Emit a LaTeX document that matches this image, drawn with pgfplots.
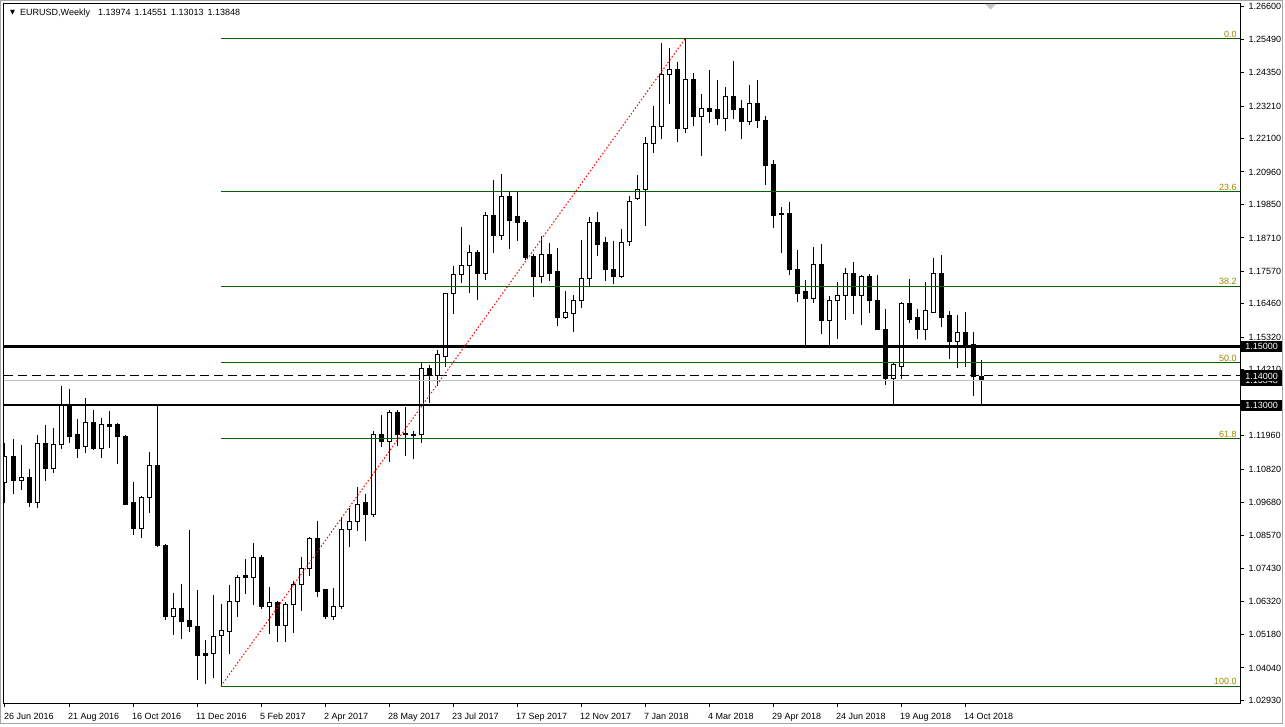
\documentclass[border=0pt]{standalone}
\usepackage{fontspec}
\setmainfont{Liberation Sans}
\newfontfamily\symfont{DejaVu Sans}
\usepackage{pgfplots}
\usepackage{pgfplotstable}
\pgfplotsset{compat=1.18}

\definecolor{fibgreen}{RGB}{0,100,0}
\definecolor{fiblab}{RGB}{150,135,0}
\definecolor{bidgray}{RGB}{192,192,192}

% weekly EURUSD candles: week index, open, high, low, close
\pgfplotstableread{
i o h l c
0 1.1035 1.1171 1.0967 1.1127
1 1.1127 1.1185 1.0997 1.1042
2 1.1045 1.1165 1.1011 1.1055
3 1.1055 1.1083 1.0953 1.0967
4 1.0970 1.1199 1.0950 1.1168
5 1.1168 1.1233 1.1042 1.1083
6 1.1083 1.1223 1.1069 1.1165
7 1.1165 1.1366 1.1151 1.1298
8 1.1301 1.1356 1.1171 1.1195
9 1.1199 1.1253 1.1120 1.1154
10 1.1158 1.1325 1.1137 1.1240
11 1.1240 1.1284 1.1148 1.1154
12 1.1154 1.1257 1.1120 1.1236
13 1.1236 1.1281 1.1154 1.1229
14 1.1233 1.1240 1.1100 1.1192
15 1.1195 1.1199 1.0960 1.0963
16 1.0967 1.1038 1.0858 1.0878
17 1.0878 1.0991 1.0847 1.0984
18 1.0984 1.1141 1.0933 1.1096
19 1.1096 1.1301 1.0817 1.0820
20 1.0823 1.0827 1.0567 1.0581
21 1.0581 1.0660 1.0516 1.0608
22 1.0608 1.0690 1.0503 1.0564
23 1.0567 1.0875 1.0527 1.0544
24 1.0547 1.0670 1.0363 1.0445
25 1.0452 1.0499 1.0349 1.0445
26 1.0452 1.0653 1.0370 1.0510
27 1.0516 1.0622 1.0342 1.0530
28 1.0527 1.0687 1.0452 1.0629
29 1.0629 1.0721 1.0578 1.0714
30 1.0718 1.0776 1.0656 1.0711
31 1.0714 1.0830 1.0619 1.0782
32 1.0782 1.0789 1.0605 1.0615
33 1.0615 1.0680 1.0520 1.0626
34 1.0626 1.0632 1.0492 1.0550
35 1.0550 1.0628 1.0492 1.0622
36 1.0619 1.0701 1.0523 1.0690
37 1.0687 1.0782 1.0598 1.0742
38 1.0742 1.0851 1.0718 1.0847
39 1.0847 1.0905 1.0646 1.0666
40 1.0670 1.0672 1.0571 1.0578
41 1.0578 1.0677 1.0567 1.0612
42 1.0612 1.0919 1.0605 1.0875
43 1.0875 1.0950 1.0817 1.0905
44 1.0905 1.1021 1.0871 1.0963
45 1.0967 1.0997 1.0837 1.0926
46 1.0926 1.1212 1.0919 1.1202
47 1.1202 1.1267 1.1158 1.1175
48 1.1175 1.1284 1.1107 1.1277
49 1.1277 1.1284 1.1161 1.1199
50 1.1202 1.1294 1.1127 1.1204
51 1.1202 1.1212 1.1117 1.1198
52 1.1199 1.1444 1.1171 1.1424
53 1.1424 1.1438 1.1308 1.1400
54 1.1400 1.1489 1.1366 1.1475
55 1.1468 1.1683 1.1431 1.1680
56 1.1680 1.1775 1.1612 1.1745
57 1.1745 1.1908 1.1717 1.1776
58 1.1776 1.1847 1.1683 1.1823
59 1.1823 1.1830 1.1659 1.1751
60 1.1751 1.1960 1.1728 1.1949
61 1.1949 1.2069 1.1820 1.1878
62 1.1878 1.2089 1.1864 1.2014
63 1.2014 1.2028 1.1833 1.1932
64 1.1943 1.2028 1.1861 1.1922
65 1.1925 1.1932 1.1796 1.1803
66 1.1806 1.1816 1.1670 1.1738
67 1.1738 1.1878 1.1717 1.1813
68 1.1813 1.1854 1.1724 1.1751
69 1.1755 1.1837 1.1571 1.1601
70 1.1601 1.1690 1.1594 1.1615
71 1.1612 1.1676 1.1550 1.1659
72 1.1659 1.1864 1.1632 1.1734
73 1.1734 1.1943 1.1707 1.1925
74 1.1925 1.1960 1.1809 1.1850
75 1.1854 1.1874 1.1724 1.1765
76 1.1765 1.1861 1.1714 1.1738
77 1.1738 1.1902 1.1736 1.1857
78 1.1860 1.2014 1.1844 1.1995
79 1.2004 1.2086 1.2000 1.2036
80 1.2036 1.2216 1.1912 1.2192
81 1.2192 1.2321 1.2161 1.2251
82 1.2251 1.2536 1.2209 1.2430
83 1.2430 1.2519 1.2328 1.2444
84 1.2444 1.2471 1.2198 1.2246
85 1.2246 1.2550 1.2229 1.2410
86 1.2410 1.2434 1.2253 1.2284
87 1.2284 1.2362 1.2151 1.2314
88 1.2314 1.2444 1.2263 1.2304
89 1.2308 1.2410 1.2256 1.2277
90 1.2277 1.2386 1.2236 1.2352
91 1.2352 1.2475 1.2277 1.2308
92 1.2311 1.2342 1.2209 1.2267
93 1.2267 1.2393 1.2256 1.2328
94 1.2328 1.2410 1.2246 1.2270
95 1.2273 1.2287 1.2052 1.2117
96 1.2120 1.2137 1.1905 1.1949
97 1.1953 1.1977 1.1820 1.1951
98 1.1953 1.1994 1.1745 1.1762
99 1.1765 1.1830 1.1652 1.1683
100 1.1687 1.1728 1.1506 1.1663
101 1.1663 1.1840 1.1649 1.1782
102 1.1782 1.1850 1.1543 1.1588
103 1.1591 1.1673 1.1499 1.1659
104 1.1659 1.1721 1.1526 1.1676
105 1.1676 1.1769 1.1591 1.1751
106 1.1751 1.1789 1.1612 1.1673
107 1.1673 1.1745 1.1574 1.1738
108 1.1738 1.1748 1.1615 1.1656
109 1.1659 1.1745 1.1558 1.1560
110 1.1560 1.1629 1.1369 1.1390
111 1.1390 1.1444 1.1304 1.1438
112 1.1434 1.1652 1.1390 1.1646
113 1.1646 1.1731 1.1581 1.1594
114 1.1598 1.1629 1.1526 1.1557
115 1.1557 1.1721 1.1523 1.1622
116 1.1618 1.1803 1.1615 1.1748
117 1.1748 1.1813 1.1567 1.1601
118 1.1605 1.1622 1.1458 1.1519
119 1.1519 1.1608 1.1427 1.1550
120 1.1550 1.1618 1.1431 1.1506
121 1.1509 1.1550 1.1332 1.1397
122 1.13974 1.14551 1.13013 1.13848
}\candles

\pgfplotsset{
  mt/.style={scale only axis, width=1236pt, height=699pt,
    xmin=-0.125, xmax=154.375, ymin=1.02843, ymax=1.26692,
    at={(0pt,0pt)}, anchor=south west},
}
\tikzset{
  pricebox/.style={fill=black, text=white, anchor=west, minimum width=41pt,
    minimum height=11pt, inner sep=0pt, xshift=1pt},
  fibtxt/.style={anchor=south east, inner sep=1pt, text=fiblab},
}

\begin{document}
\fontsize{9}{10}\selectfont
\begin{tikzpicture}[font=\fontsize{9}{10}\selectfont]
% wicks
\begin{axis}[mt, hide axis]
\addplot[draw=none, mark=none, error bars/.cd, y dir=plus, y explicit,
  error mark=none, error bar style={draw=black, solid, line width=1pt}]
  table[x=i, y=l, y error expr=\thisrow{h}-\thisrow{l}] {\candles};
\end{axis}
% bodies
\begin{axis}[mt, hide axis, ybar stacked, bar width=4pt]
\addplot[draw=none, fill=none] table[x=i, y expr={min(\thisrow{o},\thisrow{c})}] {\candles};
\addplot[draw=black, fill=white, line width=1pt] table[x=i, y expr={max(\thisrow{c}-\thisrow{o},0)}] {\candles};
\addplot[draw=black, fill=black, line width=1pt] table[x=i, y expr={max(\thisrow{o}-\thisrow{c},0)}] {\candles};
\end{axis}
% objects, frame and scales
\begin{axis}[mt, clip mode=individual,
  axis line style={line width=1pt},
  tick align=outside, major tick length=4pt, tick style={black, line width=1pt},
  xtick pos=left, ytick pos=right, yticklabel pos=right,
  xtick={0,8,...,120},
  xticklabels={26 Jun 2016, 21 Aug 2016, 16 Oct 2016, 11 Dec 2016, 5 Feb 2017,
    2 Apr 2017, 28 May 2017, 23 Jul 2017, 17 Sep 2017, 12 Nov 2017, 7 Jan 2018,
    4 Mar 2018, 29 Apr 2018, 24 Jun 2018, 19 Aug 2018, 14 Oct 2018},
  ytick={1.26600,1.25490,1.24350,1.23210,1.22100,1.20960,1.19850,1.18710,1.17570,
    1.16460,1.15320,1.14210,1.11960,1.10820,1.09680,1.08570,1.07430,1.06320,
    1.05180,1.04040,1.02930},
  yticklabels={1.26600,1.25490,1.24350,1.23210,1.22100,1.20960,1.19850,1.18710,1.17570,
    1.16460,1.15320,1.14210,1.11960,1.10820,1.09680,1.08570,1.07430,1.06320,
    1.05180,1.04040,1.02930},
  xticklabel style={anchor=north west, inner sep=0pt, xshift=-1pt, yshift=-6pt},
  yticklabel style={anchor=west, inner sep=0pt, xshift=4.5pt},
]
\addplot[fibgreen, line width=1pt] coordinates {(27,1.2550)(154.375,1.2550)};
\addplot[fibgreen, line width=1pt] coordinates {(27,1.20289)(154.375,1.20289)};
\addplot[fibgreen, line width=1pt] coordinates {(27,1.17065)(154.375,1.17065)};
\addplot[fibgreen, line width=1pt] coordinates {(27,1.1446)(154.375,1.1446)};
\addplot[fibgreen, line width=1pt] coordinates {(27,1.11855)(154.375,1.11855)};
\addplot[fibgreen, line width=1pt] coordinates {(27,1.0342)(154.375,1.0342)};
\addplot[bidgray, line width=1pt] coordinates {(-0.125,1.13848)(154.375,1.13848)};
\addplot[black, line width=1pt, dash pattern=on 9pt off 5pt] coordinates {(-0.125,1.14)(154.375,1.14)};
\addplot[black, line width=2.5pt] coordinates {(-0.125,1.15)(154.375,1.15)};
\addplot[black, line width=2pt] coordinates {(-0.125,1.13)(154.375,1.13)};
\addplot[red, line width=1pt, dash pattern=on 1.5pt off 2pt] coordinates {(27,1.0342)(85,1.2550)};
\end{axis}
% labels on top
\begin{axis}[mt, hide axis, clip=false]
\node[fibtxt] at (axis cs:154.1,1.2550) {0.0};
\node[fibtxt] at (axis cs:154.1,1.20289) {23.6};
\node[fibtxt] at (axis cs:154.1,1.17065) {38.2};
\node[fibtxt] at (axis cs:154.1,1.1446) {50.0};
\node[fibtxt] at (axis cs:154.1,1.11855) {61.8};
\node[fibtxt] at (axis cs:154.1,1.0342) {100.0};
\node[pricebox] at (axis cs:154.375,1.13848) {1.13848};
\node[pricebox] at (axis cs:154.375,1.14) {1.14000};
\node[pricebox] at (axis cs:154.375,1.15) {1.15000};
\node[pricebox] at (axis cs:154.375,1.13) {1.13000};
\end{axis}
% title and window decoration
\node[anchor=west, inner sep=0pt] at (6pt,690.5pt) {\symfont\fontsize{6.5}{7}\selectfont ▼};
\node[anchor=west, inner sep=0pt] at (16pt,690.3pt)
  {EURUSD,Weekly\hspace{8pt}1.13974\hspace{4pt}1.14551\hspace{4pt}1.13013\hspace{4pt}1.13848};
\fill[black!22] (981pt,699pt) -- (992pt,699pt) -- (986.5pt,693.5pt) -- cycle;
\draw[black!35, line width=1pt] (-3.5pt,-20.5pt) rectangle (1278.5pt,702.5pt);
\pgfresetboundingbox
\path[use as bounding box] (-4pt,-23pt) rectangle (1281pt,703pt);
\end{tikzpicture}
\end{document}
